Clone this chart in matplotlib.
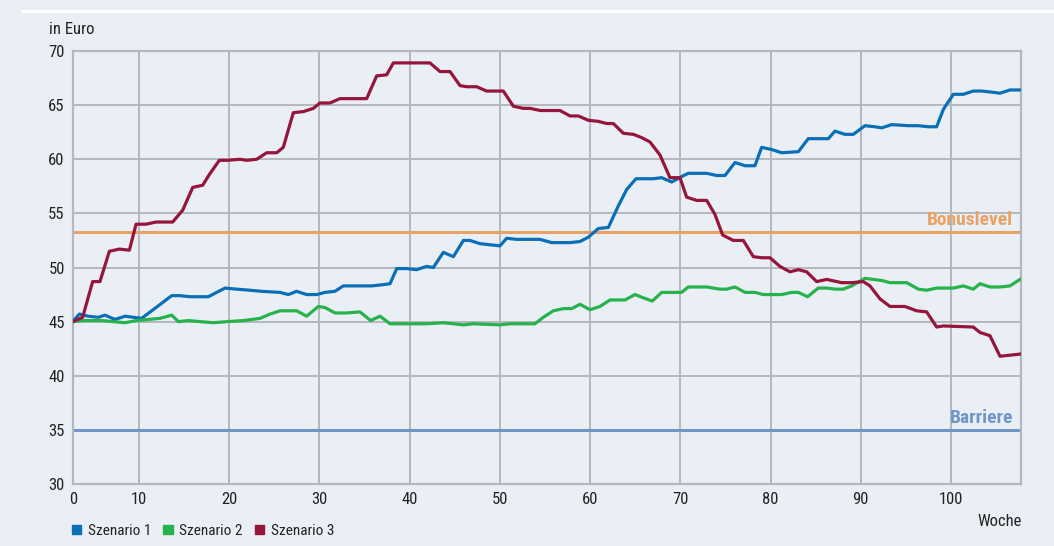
import matplotlib
matplotlib.use("Agg")
import matplotlib.pyplot as plt
from matplotlib.patches import Patch
from matplotlib.lines import Line2D
from matplotlib import font_manager

# prefer a condensed face if installed
cond = [f.name for f in font_manager.fontManager.ttflist
        if 'condensed' in f.name.lower() or 'narrow' in f.name.lower()
        or str(f.stretch).lower() in ('condensed', 'semi-condensed')]
fam = []
for pref in ['Liberation Sans Narrow', 'DejaVu Sans Condensed', 'Roboto Condensed', 'Open Sans Condensed']:
    if pref in cond:
        fam.append(pref)
plt.rcParams['font.family'] = fam + ['DejaVu Sans']
plt.rcParams['font.stretch'] = 'condensed'

# ---------------- data ----------------
series_names = ["Szenario 1", "Szenario 2", "Szenario 3"]

weeks_s1 = [2.65, 3.38, 4.38, 5.49, 6.23, 7.34, 8.45, 9.37, 10.29, 11.4, 12.51, 13.62, 14.54, 15.65,
            17.68, 18.6, 19.53, 20.82, 22.3, 23.59, 25.63, 26.55, 27.47, 28.58, 29.69, 30.61, 31.72,
            32.64, 33.75, 35.78, 36.89, 37.82, 38.56, 39.66, 40.77, 41.88, 42.62, 43.73, 44.84, 45.95,
            46.68, 47.79, 48.9, 50.01, 50.75, 51.86, 52.96, 54.44, 55.74, 57.77, 58.88, 59.8, 60.91,
            62.02, 63.13, 64.05, 65.08, 67.0, 67.93, 69.04, 70.14, 70.88, 72.92, 74.03, 74.95, 76.06,
            77.17, 78.27, 79.01, 80.12, 81.23, 83.08, 84.18, 86.4, 87.14, 88.25, 89.17, 90.47, 91.58,
            92.32, 93.42, 95.27, 96.38, 97.49, 98.41, 99.15, 100.26, 101.37, 102.47, 103.4, 104.51,
            105.43, 106.54, 107.65]
values_s1 = [45.0, 45.7, 45.5, 45.4, 45.6, 45.2, 45.5, 45.4, 45.3, 46.0, 46.7, 47.4, 47.4, 47.3,
             47.3, 47.7, 48.1, 48.0, 47.9, 47.8, 47.7, 47.5, 47.8, 47.5, 47.5, 47.7, 47.8,
             48.3, 48.3, 48.3, 48.4, 48.5, 49.9, 49.9, 49.8, 50.1, 50.0, 51.4, 51.0, 52.5,
             52.5, 52.2, 52.1, 52.0, 52.7, 52.6, 52.6, 52.6, 52.3, 52.3, 52.4, 52.8, 53.6,
             53.7, 55.7, 57.2, 58.2, 58.2, 58.3, 57.9, 58.4, 58.7, 58.7, 58.5, 58.5, 59.7,
             59.4, 59.4, 61.1, 60.9, 60.6, 60.7, 61.9, 61.9, 62.6, 62.3, 62.3, 63.1, 63.0,
             62.9, 63.2, 63.1, 63.1, 63.0, 63.0, 64.6, 66.0, 66.0, 66.3, 66.3, 66.2,
             66.1, 66.4, 66.4]

weeks_s2 = [2.65, 3.83, 5.86, 7.15, 8.45, 9.74, 12.32, 13.62, 14.36, 15.47, 16.76, 18.24, 19.8,
            21.56, 23.41, 24.52, 25.63, 27.47, 28.58, 29.87, 30.61, 31.72, 33.01, 34.49, 35.67,
            36.71, 37.82, 40.77, 41.88, 43.73, 45.95, 47.05, 50.01, 51.12, 53.89, 54.81, 55.92,
            57.03, 57.95, 58.88, 59.98, 61.09, 62.2, 63.86, 64.97, 65.9, 66.89, 67.93, 70.14,
            70.88, 72.92, 74.4, 75.13, 76.06, 77.17, 78.27, 79.2, 81.23, 82.34, 83.08, 84.11,
            85.29, 86.22, 87.14, 88.06, 88.99, 90.47, 91.39, 92.32, 93.24, 95.09, 96.38, 97.3,
            98.41, 100.26, 101.37, 102.47, 103.21, 104.32, 105.43, 106.54, 107.65]
values_s2 = [45.0, 45.1, 45.1, 45.0, 44.9, 45.1, 45.3, 45.6, 45.0, 45.1, 45.0, 44.9, 45.0,
             45.1, 45.3, 45.7, 46.0, 46.0, 45.5, 46.4, 46.3, 45.8, 45.8, 45.9, 45.1,
             45.5, 44.8, 44.8, 44.8, 44.9, 44.7, 44.8, 44.7, 44.8, 44.8, 45.4, 46.0,
             46.2, 46.2, 46.6, 46.1, 46.4, 47.0, 47.0, 47.5, 47.2, 46.9, 47.7, 47.7,
             48.2, 48.2, 48.0, 48.0, 48.2, 47.7, 47.7, 47.5, 47.5, 47.7, 47.7, 47.3,
             48.1, 48.1, 48.0, 48.0, 48.3, 49.0, 48.9, 48.8, 48.6, 48.6, 48.0, 47.9,
             48.1, 48.1, 48.3, 48.0, 48.5, 48.2, 48.2, 48.3, 48.9]

weeks_s3 = [2.65, 3.75, 4.86, 5.67, 6.71, 7.82, 8.93, 9.67, 10.77, 11.88, 13.73, 14.84, 15.95,
            17.06, 17.8, 18.9, 19.8, 21.19, 21.93, 23.04, 24.15, 25.26, 25.99, 27.1, 28.21,
            29.32, 30.06, 31.17, 32.27, 33.38, 35.23, 36.34, 37.45, 38.19, 40.22, 42.25, 43.36,
            44.47, 45.58, 46.31, 47.42, 48.53, 50.38, 51.49, 52.6, 53.33, 54.5, 56.66, 57.77,
            58.69, 59.8, 60.91, 61.83, 62.57, 63.68, 64.79, 65.71, 66.63, 67.74, 68.85, 69.96,
            70.7, 71.81, 72.92, 73.84, 74.69, 75.87, 76.98, 78.09, 79.01, 79.94, 81.04, 82.15,
            83.08, 84.0, 85.11, 86.22, 87.88, 88.99, 90.28, 91.02, 92.13, 93.24, 94.9, 96.19,
            97.3, 98.41, 99.15, 102.47, 103.21, 104.32, 105.43, 106.54, 107.65]
values_s3 = [45.0, 45.4, 48.7, 48.7, 51.5, 51.7, 51.6, 54.0, 54.0, 54.2, 54.2, 55.3, 57.4,
             57.6, 58.6, 59.9, 59.9, 60.0, 59.9, 60.0, 60.6, 60.6, 61.1, 64.3, 64.4,
             64.7, 65.2, 65.2, 65.6, 65.6, 65.6, 67.7, 67.8, 68.9, 68.9, 68.9, 68.1,
             68.1, 66.8, 66.7, 66.7, 66.3, 66.3, 64.9, 64.7, 64.7, 64.5, 64.5, 64.0,
             64.0, 63.6, 63.5, 63.3, 63.3, 62.4, 62.3, 62.0, 61.6, 60.4, 58.3, 58.3,
             56.5, 56.2, 56.2, 54.9, 53.0, 52.5, 52.5, 51.0, 50.9, 50.9, 50.1, 49.6,
             49.8, 49.6, 48.7, 48.9, 48.6, 48.6, 48.7, 48.3, 47.1, 46.4, 46.4, 46.0,
             45.9, 44.5, 44.6, 44.5, 44.0, 43.7, 41.8, 41.9, 42.0]

bonus_level = 53.3
barrier_level = 35.0
x_range = (2.68, 107.76)
x_tick_positions = [2.68, 10, 20, 30, 40, 50, 60, 70, 80, 90, 100]
x_tick_labels = ["0", "10", "20", "30", "40", "50", "60", "70", "80", "90", "100"]
y_ticks = [30, 35, 40, 45, 50, 55, 60, 65, 70]

# ---------------- style ----------------
bg = "#eaeff6"
grid_c = "#b4b7bc"
colors = ["#0b6fb8", "#27b24b", "#96163b"]
bonus_c = "#e9a265"
barrier_c = "#7096c6"
text_c = "#222222"

fig = plt.figure(figsize=(10.54, 5.46), dpi=100, facecolor=bg)
ax = fig.add_axes([73 / 1054, 1 - 484 / 546, (1021 - 73) / 1054, (484 - 51) / 546])
ax.set_facecolor(bg)

# top white rule
fig.add_artist(Line2D([22 / 1054, 1.0], [1 - 11 / 546, 1 - 11 / 546], color="white",
                      lw=2.2, transform=fig.transFigure))

ax.set_xlim(*x_range)
ax.set_ylim(30, 70)
ax.set_xticks(x_tick_positions)
ax.set_xticklabels(x_tick_labels)
ax.set_yticks(y_ticks)
ax.grid(True, color=grid_c, lw=1.4, zorder=0)
ax.tick_params(length=0, labelsize=12, colors=text_c, pad=6)
ax.tick_params(axis="x", pad=6)
for s in ax.spines.values():
    s.set_color(grid_c)
    s.set_linewidth(1.6)

ax.axhline(bonus_level, color=bonus_c, lw=2.2, zorder=2)
ax.axhline(barrier_level, color=barrier_c, lw=2.2, zorder=2)
ax.text(x_range[1] - 0.9, bonus_level + 0.3, "Bonuslevel", color=bonus_c, fontsize=14,
        fontweight="bold", ha="right", va="bottom")
ax.text(x_range[1] - 0.9, barrier_level + 0.3, "Barriere", color=barrier_c, fontsize=14,
        fontweight="bold", ha="right", va="bottom")

for xs, ys, c in zip([weeks_s1, weeks_s2, weeks_s3], [values_s1, values_s2, values_s3], colors):
    ax.plot(xs, ys, color=c, lw=2.3, zorder=3, solid_joinstyle="round")

fig.text(49 / 1054, 1 - 29 / 546, "in Euro", fontsize=12, color=text_c, ha="left", va="center")
fig.text(1022 / 1054, 1 - 522 / 546, "Woche", fontsize=12, color=text_c, ha="right", va="center")

handles = [Patch(facecolor=c, edgecolor=c) for c in colors]
fig.legend(handles, series_names, loc="center left", bbox_to_anchor=(58 / 1054, 1 - 531 / 546),
           ncol=3, frameon=False, fontsize=11, handlelength=0.6, handleheight=0.6,
           handletextpad=0.45, columnspacing=0.8, labelcolor=text_c)

fig.savefig("out.png", dpi=100, facecolor=bg)
